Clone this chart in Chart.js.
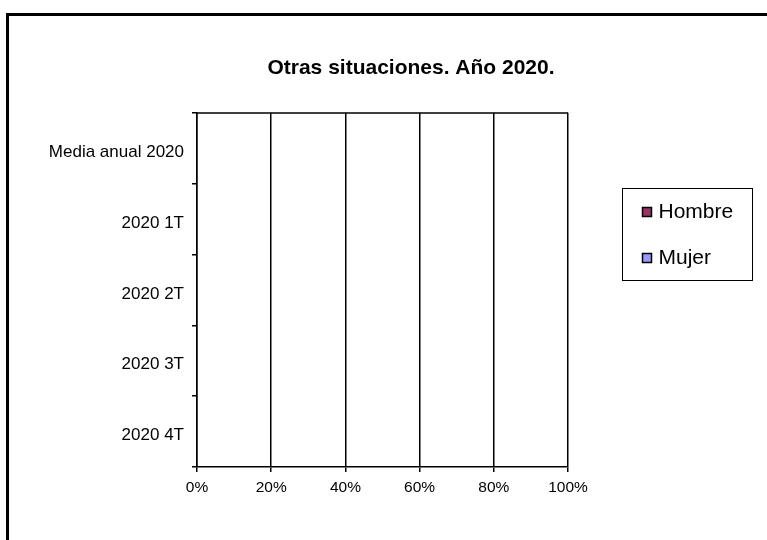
<!DOCTYPE html>
<html>
<head>
<meta charset="utf-8">
<script src="https://cdn.jsdelivr.net/npm/chart.js@4/dist/chart.umd.min.js"></script>
<style>
  html, body { margin: 0; padding: 0; background: #fff; overflow: hidden; width: 767px; height: 540px; }
  #frame { position: absolute; left: 6px; top: 13px; width: 807px; height: 527px; border-left: 3px solid #000; border-top: 3px solid #000; background: #fff; }
  #wrap { position: absolute; left: 0; top: 0; width: 804px; height: 524px; }
</style>
</head>
<body>
<div id="frame"><div id="wrap"><canvas id="c"></canvas></div></div>
<script>
// ---- data ----
const chartTitle = 'Otras situaciones. Año 2020.';
const categories = ['Media anual 2020', '2020 1T', '2020 2T', '2020 3T', '2020 4T'];
const seriesNames = ['Hombre', 'Mujer'];
const hombreValues = [null, null, null, null, null];
const mujerValues = [null, null, null, null, null];
const xTicks = [0, 20, 40, 60, 80, 100];

const FONT = "'Liberation Sans', Arial, sans-serif";

const topLinePlugin = {
  id: 'topLine',
  afterDraw(chart) {
    const { ctx, chartArea } = chart;
    ctx.save();
    ctx.strokeStyle = '#000';
    ctx.lineWidth = 1.5;
    ctx.beginPath();
    const y = Math.round(chartArea.top);
    ctx.moveTo(chartArea.left, y);
    ctx.lineTo(chartArea.right, y);
    ctx.stroke();
    ctx.restore();
  }
};

const boxLegendPlugin = {
  id: 'boxLegend',
  afterDraw(chart) {
    const { ctx } = chart;
    const bx = 613.5, by = 172.5, bw = 130, bh = 92;
    ctx.save();
    ctx.strokeStyle = '#000';
    ctx.lineWidth = 1;
    ctx.strokeRect(bx, by, bw, bh);
    ctx.font = '21px ' + FONT;
    ctx.textBaseline = 'middle';
    chart.data.datasets.forEach((ds, i) => {
      const cy = by + 24 + i * 46;
      ctx.fillStyle = ds.backgroundColor;
      ctx.fillRect(bx + 20, cy - 5, 9, 9);
      ctx.strokeStyle = '#000';
      ctx.lineWidth = 1.5;
      ctx.strokeRect(bx + 20, cy - 5, 9, 9);
      ctx.fillStyle = '#000';
      ctx.fillText(ds.label, bx + 36, cy);
    });
    ctx.restore();
  }
};

new Chart(document.getElementById('c'), {
  type: 'bar',
  data: {
    labels: categories,
    datasets: [
      { label: seriesNames[0], data: hombreValues, backgroundColor: '#993366', borderColor: '#000', borderWidth: 1 },
      { label: seriesNames[1], data: mujerValues, backgroundColor: '#9999FF', borderColor: '#000', borderWidth: 1 }
    ]
  },
  options: {
    indexAxis: 'y',
    responsive: true,
    maintainAspectRatio: false,
    animation: false,
    layout: { padding: 0 },
    plugins: {
      legend: { display: false },
      tooltip: { enabled: false },
      title: {
        display: true,
        text: chartTitle,
        color: '#000',
        font: { family: FONT, size: 21, weight: 'bold' },
        padding: { top: 40, bottom: 31.5 }
      }
    },
    scales: {
      x: {
        stacked: true,
        min: 0,
        max: 100,
        afterBuildTicks(scale) { scale.ticks = xTicks.map(v => ({ value: v })); },
        afterFit(scale) { scale.height = 73; },
        ticks: {
          color: '#000',
          font: { family: FONT, size: 15.5 },
          padding: 6,
          maxRotation: 0,
          callback: v => v + '%'
        },
        grid: { color: '#000', lineWidth: 1.5, tickLength: 5, drawTicks: true },
        border: { display: true, color: '#000', width: 1.5 }
      },
      y: {
        stacked: true,
        afterFit(scale) { scale.width = 188; },
        ticks: {
          color: '#000',
          font: { family: FONT, size: 17 },
          padding: 8,
          labelOffset: 4
        },
        grid: { display: true, drawOnChartArea: false, color: '#000', lineWidth: 1.5, tickLength: 5, offset: true },
        border: { display: true, color: '#000', width: 1.5 }
      },
      yRightSpace: {
        type: 'linear',
        position: 'right',
        display: true,
        afterFit(scale) { scale.width = 245; },
        ticks: { display: false },
        grid: { display: false },
        border: { display: false }
      }
    }
  },
  plugins: [topLinePlugin, boxLegendPlugin]
});
</script>
</body>
</html>
